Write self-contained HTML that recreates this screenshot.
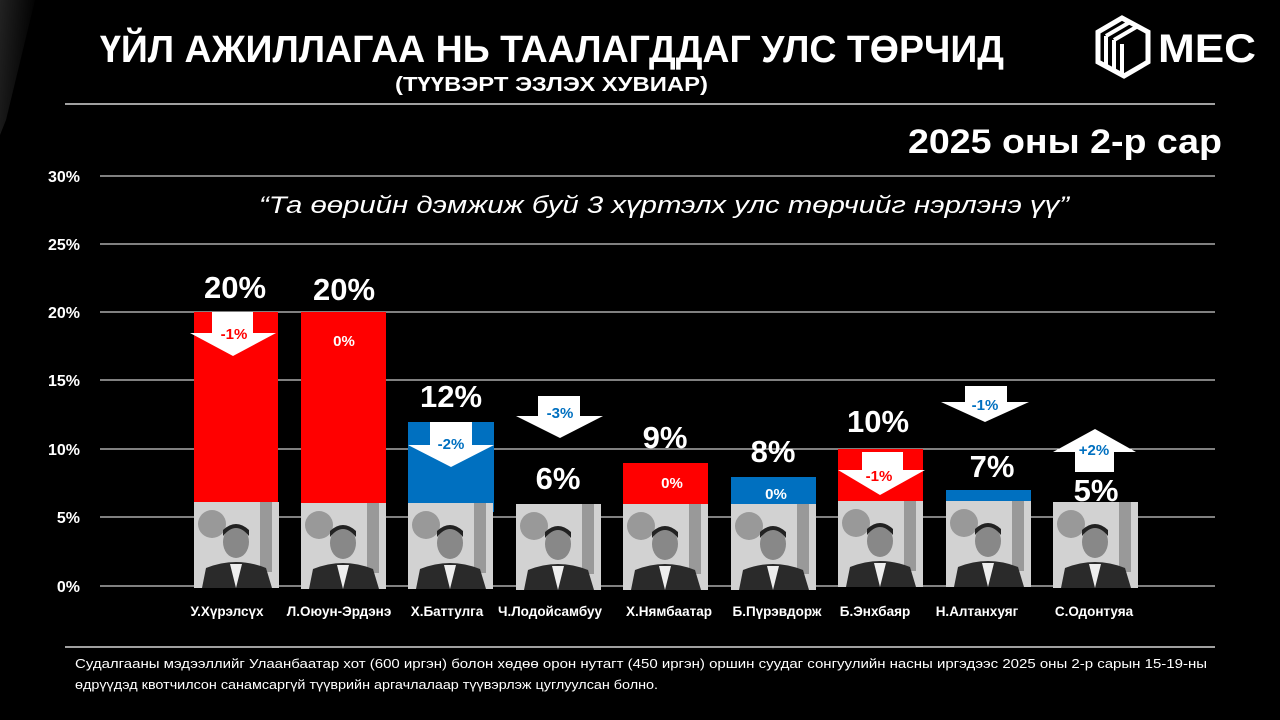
<!DOCTYPE html>
<html><head><meta charset="utf-8"><style>
html,body{margin:0;padding:0;background:#000;}
svg{display:block;font-family:"Liberation Sans",sans-serif;}
</style></head><body>
<svg width="1280" height="720" viewBox="0 0 1280 720" xmlns="http://www.w3.org/2000/svg">
<defs>
<linearGradient id="sh" x1="0" y1="0" x2="1" y2="0.3">
<stop offset="0" stop-color="#444"/><stop offset="1" stop-color="#000"/></linearGradient>
<g id="ph">
<rect x="0" y="0" width="85" height="86" fill="#d2d2d2"/>
<circle cx="18" cy="22" r="14" fill="#999"/>
<rect x="66" y="0" width="12" height="70" fill="#999"/>
<path d="M8 86 L12 66 Q42 54 72 66 L78 86Z" fill="#2a2a2a"/>
<path d="M36 62 L42 86 L48 62Z" fill="#eee"/>
<ellipse cx="42" cy="40" rx="13" ry="16" fill="#888"/>
<path d="M29 34 Q42 18 55 34 L55 28 Q42 16 29 28Z" fill="#222"/>
</g>
</defs>
<rect width="1280" height="720" fill="#000"/>
<path d="M0 0 L35 0 L6 120 L0 135Z" fill="url(#sh)" opacity="0.5"/>
<text x="100" y="62" fill="#fff" font-size="38" font-weight="bold" textLength="904" lengthAdjust="spacingAndGlyphs">ҮЙЛ АЖИЛЛАГАА НЬ ТААЛАГДДАГ УЛС ТӨРЧИД</text>
<text x="395" y="91" fill="#fff" font-size="20" font-weight="bold" textLength="313" lengthAdjust="spacingAndGlyphs">(ТҮҮВЭРТ ЭЗЛЭХ ХУВИАР)</text>
<g fill="#fff">
<path d="M1098 32 L1122 18 L1148 32 L1148 62 L1124 76 L1098 62Z" fill="none" stroke="#fff" stroke-width="5"/>
<path d="M1106 36 L1130 22 M1114 40 L1138 26 M1106 36 L1106 66 M1114 40 L1114 70 M1122 44 L1122 74" stroke="#fff" stroke-width="4" fill="none"/>
<text x="1158" y="62" font-size="40" font-weight="bold" textLength="98" lengthAdjust="spacingAndGlyphs">MEC</text>
</g>
<line x1="65" y1="104" x2="1215" y2="104" stroke="#fff" stroke-width="1.2"/>
<text x="1222" y="153" fill="#fff" font-size="34" font-weight="bold" text-anchor="end" textLength="314" lengthAdjust="spacingAndGlyphs">2025 оны 2-р сар</text>
<g stroke="#fff" stroke-width="1">
<line x1="100" y1="176" x2="1215" y2="176"/><line x1="100" y1="244" x2="1215" y2="244"/>
<line x1="100" y1="312" x2="1215" y2="312"/><line x1="100" y1="380" x2="1215" y2="380"/>
<line x1="100" y1="449" x2="1215" y2="449"/><line x1="100" y1="517" x2="1215" y2="517"/>
<line x1="100" y1="586" x2="1215" y2="586"/>
</g>
<g fill="#fff" font-size="16" font-weight="bold" text-anchor="end">
<text x="80" y="182">30%</text><text x="80" y="250">25%</text><text x="80" y="318">20%</text>
<text x="80" y="386">15%</text><text x="80" y="455">10%</text><text x="80" y="523">5%</text><text x="80" y="592">0%</text>
</g>
<text x="664" y="213" fill="#fff" font-size="24" font-style="italic" text-anchor="middle" textLength="810" lengthAdjust="spacingAndGlyphs">“Та өөрийн дэмжиж буй 3 хүртэлх улс төрчийг нэрлэнэ үү”</text>
<rect x="194" y="312" width="84" height="200" fill="#f00"/>
<rect x="301" y="312" width="85" height="200" fill="#f00"/>
<rect x="408" y="422" width="86" height="90" fill="#0070c0"/>
<rect x="623" y="463" width="85" height="49" fill="#f00"/>
<rect x="731" y="477" width="85" height="35" fill="#0070c0"/>
<rect x="838" y="449" width="85" height="63" fill="#f00"/>
<rect x="946" y="490" width="85" height="22" fill="#0070c0"/>
<use href="#ph" x="194" y="502"/><use href="#ph" x="301" y="503"/><use href="#ph" x="408" y="503"/>
<use href="#ph" x="516" y="504"/><use href="#ph" x="623" y="504"/><use href="#ph" x="731" y="504"/>
<use href="#ph" x="838" y="501"/><use href="#ph" x="946" y="501"/><use href="#ph" x="1053" y="502"/>
<g fill="#fff">
<path d="M212 312 H253 V333 H276 L233 356 L190 333 H212Z"/>
<path d="M430 422 H472 V445 H494 L451 467 L408 445 H430Z"/>
<path d="M538 396 H580 V416 H603 L560 438 L516 416 H538Z"/>
<path d="M862 452 H903 V470 H925 L880 495 L838 470 H862Z"/>
<path d="M965 386 H1007 V402 H1029 L985 422 L941 402 H965Z"/>
<path d="M1075 472 H1114 V452 H1136 L1095 429 L1053 452 H1075Z"/>
</g>
<g font-size="15" font-weight="bold" text-anchor="middle">
<text x="234" y="339" fill="#f00">-1%</text>
<text x="344" y="346" fill="#fff">0%</text>
<text x="451" y="449" fill="#0070c0">-2%</text>
<text x="560" y="418" fill="#0070c0">-3%</text>
<text x="672" y="488" fill="#fff">0%</text>
<text x="776" y="499" fill="#fff">0%</text>
<text x="879" y="481" fill="#f00">-1%</text>
<text x="985" y="410" fill="#0070c0">-1%</text>
<text x="1094" y="455" fill="#0070c0">+2%</text>
</g>
<g fill="#fff" font-size="31" font-weight="bold" text-anchor="middle">
<text x="235" y="298">20%</text><text x="344" y="300">20%</text><text x="451" y="407">12%</text>
<text x="558" y="489">6%</text><text x="665" y="448">9%</text><text x="773" y="462">8%</text>
<text x="878" y="432">10%</text><text x="992" y="477">7%</text><text x="1096" y="501">5%</text>
</g>
<g fill="#fff" font-size="13.5" font-weight="bold" text-anchor="middle">
<text x="227" y="616">У.Хүрэлсүх</text><text x="339" y="616">Л.Оюун-Эрдэнэ</text><text x="447" y="616">Х.Баттулга</text>
<text x="550" y="616">Ч.Лодойсамбуу</text><text x="669" y="616">Х.Нямбаатар</text><text x="777" y="616">Б.Пүрэвдорж</text>
<text x="875" y="616">Б.Энхбаяр</text><text x="977" y="616">Н.Алтанхуяг</text><text x="1094" y="616">С.Одонтуяа</text>
</g>
<line x1="65" y1="647" x2="1215" y2="647" stroke="#fff" stroke-width="1.2"/>
<g fill="#fff" font-size="12.5">
<text x="75" y="668" textLength="1132" lengthAdjust="spacingAndGlyphs">Судалгааны мэдээллийг Улаанбаатар хот (600 иргэн) болон хөдөө орон нутагт (450 иргэн) оршин суудаг сонгуулийн насны иргэдээс 2025 оны 2-р сарын 15-19-ны</text>
<text x="75" y="689" textLength="583" lengthAdjust="spacingAndGlyphs">өдрүүдэд квотчилсон санамсаргүй түүврийн аргачлалаар түүвэрлэж цуглуулсан болно.</text>
</g>
</svg>
</body></html>
